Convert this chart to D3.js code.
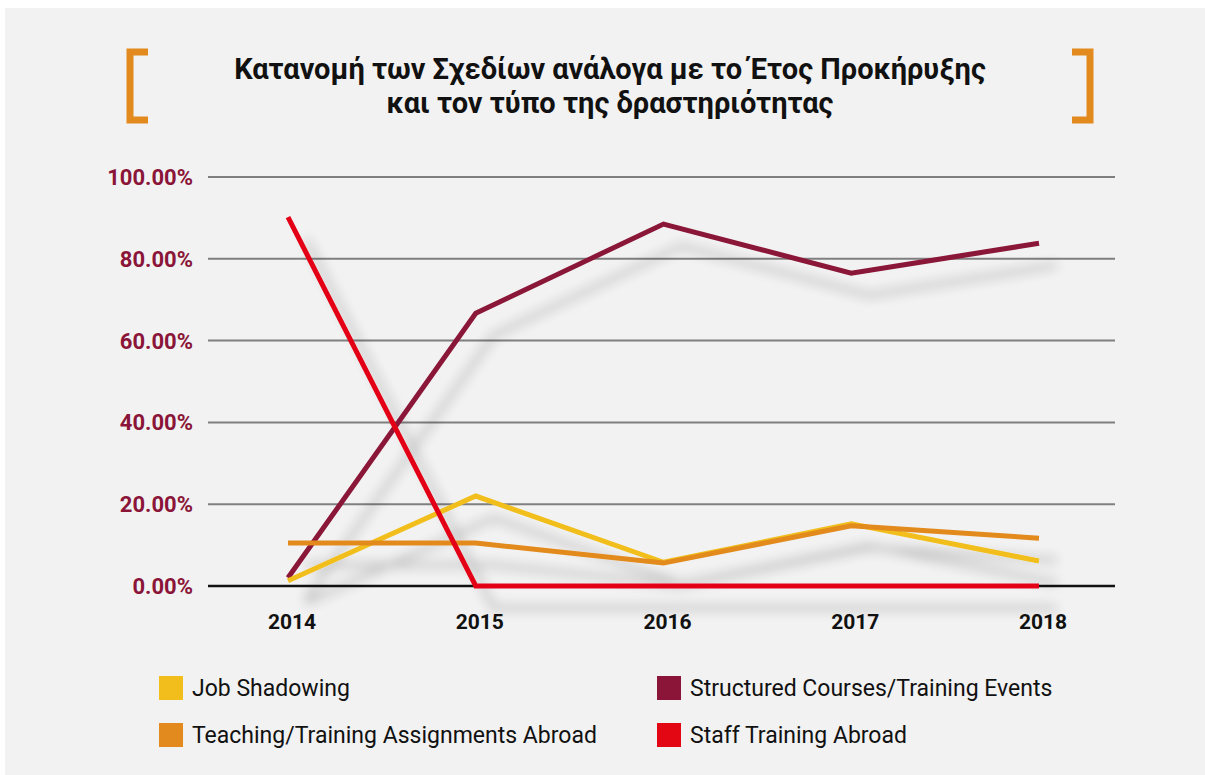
<!DOCTYPE html>
<html>
<head>
<meta charset="utf-8">
<script src="https://cdn.jsdelivr.net/npm/d3@7.9.0/dist/d3.min.js"></script>
<style>
  html, body { margin: 0; padding: 0; background: #ffffff; }
  svg { display: block; }
</style>
</head>
<body>
<svg id="chart" width="1205" height="775"></svg>
<script>
// data (percent)
const years = ['2014', '2015', '2016', '2017', '2018'];
const jobShadowing = [1.3, 22.0, 5.8, 15.2, 6.1];
const structuredCourses = [2.0, 66.7, 88.5, 76.5, 83.8];
const teachingAssignments = [10.5, 10.5, 5.6, 14.7, 11.7];
const staffTraining = [90.2, 0, 0, 0, 0];
const yTicks = [0, 20, 40, 60, 80, 100];

const titleLines = [
  'Κατανομή των Σχεδίων ανάλογα με το Έτος Προκήρυξης',
  'και τον τύπο της δραστηριότητας'
];

// draw order matters (red on top)
const series = [
  { name: 'Structured Courses/Training Events', values: structuredCourses, color: '#8a1538' },
  { name: 'Job Shadowing', values: jobShadowing, color: '#f1be1b' },
  { name: 'Teaching/Training Assignments Abroad', values: teachingAssignments, color: '#e38a1e' },
  { name: 'Staff Training Abroad', values: staffTraining, color: '#e30613' }
];
const legendOrder = ['Job Shadowing', 'Structured Courses/Training Events',
                     'Teaching/Training Assignments Abroad', 'Staff Training Abroad'];

const svg = d3.select('#chart');

// panel background
svg.append('rect')
  .attr('x', 5).attr('y', 8)
  .attr('width', 1205).attr('height', 775)
  .attr('fill', '#f2f2f2');

// shadow filter for the lines
const defs = svg.append('defs');
const f = defs.append('filter').attr('id', 'shadow')
  .attr('x', '-20%').attr('y', '-20%').attr('width', '140%').attr('height', '140%');
f.append('feGaussianBlur').attr('in', 'SourceAlpha').attr('stdDeviation', 6).attr('result', 'blur');
f.append('feOffset').attr('in', 'blur').attr('dx', 18).attr('dy', 22).attr('result', 'off');
f.append('feComponentTransfer').attr('in', 'off').attr('result', 'shade')
  .append('feFuncA').attr('type', 'linear').attr('slope', 0.22);
const merge = f.append('feMerge');
merge.append('feMergeNode').attr('in', 'shade');
merge.append('feMergeNode').attr('in', 'SourceGraphic');

// title + brackets
const title = svg.append('g').attr('font-family', 'Roboto, sans-serif')
  .attr('font-weight', 700).attr('font-size', 29).attr('fill', '#111');
title.selectAll('text')
  .data(titleLines)
  .join('text')
  .attr('x', 610)
  .attr('y', (d, i) => 79 + i * 34)
  .attr('text-anchor', 'middle')
  .text(d => d);

const bracket = (x, dir) => {
  // dir = 1 for "[" and -1 for "]"
  const w = 18, h = 68, top = 52;
  const p = d3.path();
  p.moveTo(x + dir * w, top);
  p.lineTo(x, top);
  p.lineTo(x, top + h);
  p.lineTo(x + dir * w, top + h);
  return p.toString();
};
svg.append('path').attr('d', bracket(130, 1))
  .attr('fill', 'none').attr('stroke', '#e38a1e').attr('stroke-width', 7);
svg.append('path').attr('d', bracket(1090, -1))
  .attr('fill', 'none').attr('stroke', '#e38a1e').attr('stroke-width', 7);

// scales
const x = d3.scalePoint().domain(years).range([288, 1039]);
const y = d3.scaleLinear().domain([0, 100]).range([586, 177]);

// grid
svg.append('g')
  .selectAll('line')
  .data(yTicks)
  .join('line')
  .attr('x1', 208).attr('x2', 1115)
  .attr('y1', d => y(d)).attr('y2', d => y(d))
  .attr('stroke', d => d === 0 ? '#111' : '#7f7f7f')
  .attr('stroke-width', d => d === 0 ? 2.5 : 2);

// y axis labels
svg.append('g')
  .attr('font-family', 'Roboto, sans-serif').attr('font-weight', 700)
  .attr('font-size', 22).attr('fill', '#8a1538')
  .selectAll('text')
  .data(yTicks)
  .join('text')
  .attr('x', 193)
  .attr('y', d => y(d) + 8)
  .attr('text-anchor', 'end')
  .text(d => d3.format('.2f')(d) + '%');

// x axis labels
svg.append('g')
  .attr('font-family', 'Roboto, sans-serif').attr('font-weight', 700)
  .attr('font-size', 21).attr('fill', '#111')
  .selectAll('text')
  .data(years)
  .join('text')
  .attr('x', d => x(d) + 4)
  .attr('y', 629)
  .attr('text-anchor', 'middle')
  .text(d => d);

// lines
const line = d3.line()
  .x((d, i) => x(years[i]))
  .y(d => y(d));

svg.append('g')
  .attr('filter', 'url(#shadow)')
  .selectAll('path')
  .data(series)
  .join('path')
  .attr('d', d => line(d.values))
  .attr('fill', 'none')
  .attr('stroke', d => d.color)
  .attr('stroke-width', 5)
  .attr('stroke-linejoin', 'miter');

// legend
const legendPos = [[159, 676], [657, 676], [159, 723], [657, 723]];
const leg = svg.append('g')
  .selectAll('g')
  .data(legendOrder.map(n => series.find(s => s.name === n)))
  .join('g')
  .attr('transform', (d, i) => `translate(${legendPos[i][0]},${legendPos[i][1]})`);
leg.append('rect').attr('width', 24).attr('height', 24).attr('fill', d => d.color);
leg.append('text')
  .attr('x', 33).attr('y', 20)
  .attr('font-family', 'Roboto, sans-serif').attr('font-size', 23).attr('fill', '#111')
  .text(d => d.name);
</script>
</body>
</html>
